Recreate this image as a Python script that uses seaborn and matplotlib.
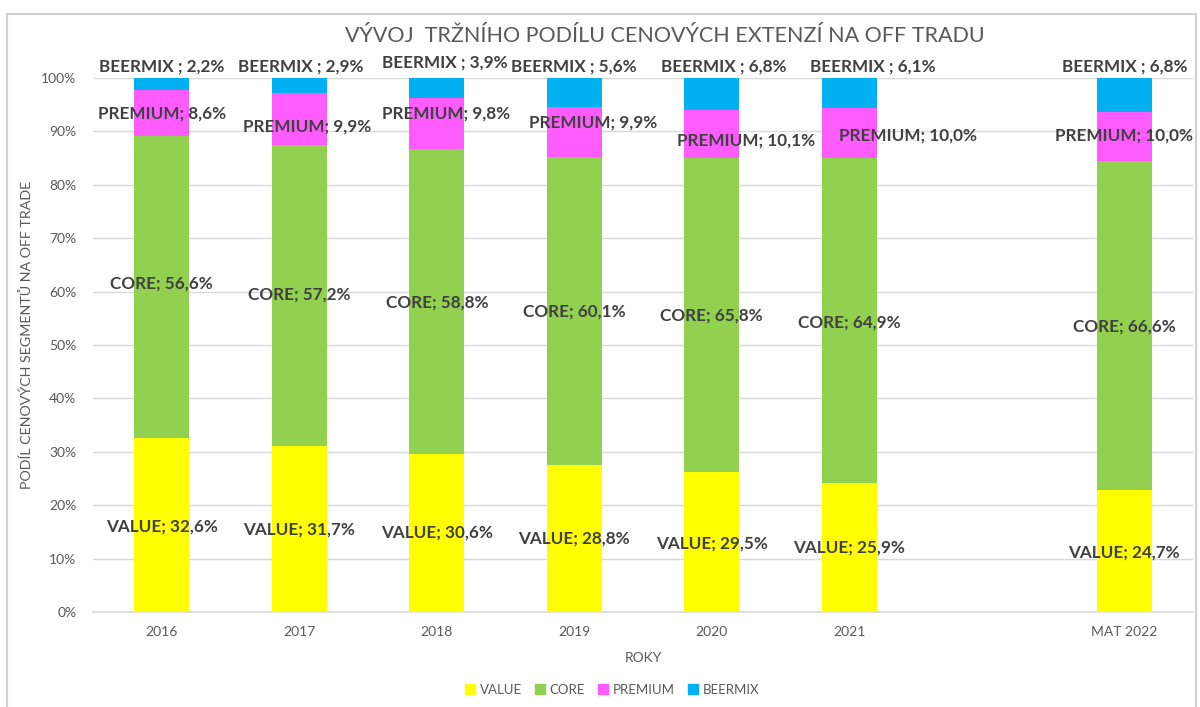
import numpy as np
import pandas as pd
import matplotlib
matplotlib.use("Agg")
import matplotlib.pyplot as plt
from matplotlib.lines import Line2D
from matplotlib.ticker import FuncFormatter
import seaborn as sns

# ---- data ----
categories = ["2016", "2017", "2018", "2019", "2020", "2021", "MAT 2022"]
order = ["2016", "2017", "2018", "2019", "2020", "2021", " ", "MAT 2022"]
value_raw = [32.6, 31.7, 30.6, 28.8, 29.5, 25.9, 24.7]
core_raw = [56.6, 57.2, 58.8, 60.1, 65.8, 64.9, 66.6]
premium_raw = [8.6, 9.9, 9.8, 9.9, 10.1, 10.0, 10.0]
beermix_raw = [2.2, 2.9, 3.9, 5.6, 6.8, 6.1, 6.8]
series_names = ["VALUE", "CORE", "PREMIUM", "BEERMIX"]
label_sep = {"VALUE": "; ", "CORE": "; ", "PREMIUM": "; ", "BEERMIX": " ; "}

# ---- label layout (Excel-style manual label placement) ----
label_y = {
    "VALUE": [16.1, 15.5, 14.8, 13.8, 12.9, 12.0, 11.2],
    "CORE": [61.5, 59.4, 57.9, 56.2, 55.6, 54.3, 53.4],
    "PREMIUM": [93.4, 91.0, 93.4, 91.6, 88.2, 89.3, 89.3],
    "BEERMIX": [102.2, 102.2, 102.9, 102.2, 102.2, 102.2, 102.2],
}
label_dx = {
    "VALUE": [0, 0, 0, 0, 0, 0, 0],
    "CORE": [0, 0, 0, 0, 0, 0, 0],
    "PREMIUM": [0.0, 0.06, 0.07, 0.14, 0.25, 0.43, 0.0],
    "BEERMIX": [0.0, 0.01, 0.06, 0.0, 0.09, 0.17, 0.0],
}

colors = {"VALUE": "#FFFF00", "CORE": "#92D050", "PREMIUM": "#FF5CFF", "BEERMIX": "#00B0F0"}

raw = {"VALUE": value_raw, "CORE": core_raw, "PREMIUM": premium_raw, "BEERMIX": beermix_raw}
totals = np.sum([np.array(raw[s]) for s in series_names], axis=0)
shares = {s: np.array(raw[s]) / totals * 100 for s in series_names}

sns.set_theme(style="white")
plt.rcParams["font.family"] = ["Lato", "DejaVu Sans"]

fig = plt.figure(figsize=(12, 7.07), dpi=100)
ax = fig.add_axes([93 / 1200, 1 - 612 / 707, 1100 / 1200, 534 / 707])

grid_c = "#D9D9D9"
txt_c = "#595959"
lab_c = "#404040"

bottom = np.zeros(len(categories))
for s in series_names:
    df = pd.DataFrame({"cat": categories, "share": shares[s]})
    sns.barplot(data=df, x="cat", y="share", order=order, color=colors[s],
                width=0.4, bottom=bottom.copy(), saturation=1, ax=ax,
                linewidth=0, errorbar=None, zorder=3)
    bottom = bottom + shares[s]

pos = {c: order.index(c) for c in categories}
for s in series_names:
    for i, c in enumerate(categories):
        txt = f"{s}{label_sep[s]}{raw[s][i]:.1f}%".replace(".", ",")
        ax.text(pos[c] + label_dx[s][i], label_y[s][i], txt, ha="center", va="center",
                fontsize=12.3, fontweight="bold", color=lab_c, zorder=5, clip_on=False)

ax.set_ylim(0, 100)
ax.set_xlim(-0.5, len(order) - 0.5)
ax.set_yticks(np.arange(0, 101, 10))
ax.yaxis.set_major_formatter(FuncFormatter(lambda v, p: f"{v:.0f}%"))
ax.grid(axis="y", color=grid_c, linewidth=1, zorder=0)
ax.grid(axis="x", visible=False)
for sp in ["left", "right", "top"]:
    ax.spines[sp].set_visible(False)
ax.spines["bottom"].set_color(grid_c)
ax.spines["bottom"].set_linewidth(1.2)
ax.tick_params(axis="both", length=0, labelsize=10, labelcolor=txt_c)
ax.tick_params(axis="x", pad=10)
ax.tick_params(axis="y", pad=12)
ax.set_xlabel("ROKY", fontsize=10, color=txt_c, labelpad=10)
ax.set_ylabel("PODÍL CENOVÝCH SEGMENTŮ NA OFF TRADE", fontsize=10.3, color=txt_c)
ax.yaxis.set_label_coords(-(93 - 33) / 1100, (612 - 335) / 534)

fig.text(665 / 1200, 1 - 36 / 707, "VÝVOJ  TRŽNÍHO PODÍLU CENOVÝCH EXTENZÍ NA OFF TRADU",
         ha="center", va="center", fontsize=15.5, color=txt_c)

handles = [Line2D([0], [0], marker="s", linestyle="none", markersize=7,
                  markerfacecolor=colors[s], markeredgecolor=colors[s]) for s in series_names]
fig.legend(handles, series_names, loc="center", bbox_to_anchor=(612 / 1200, 1 - 690 / 707),
           ncol=4, frameon=False, fontsize=9.5, labelcolor=txt_c, handletextpad=0.3,
           columnspacing=1.0, handlelength=0.8)

# chart border
bc = "#D0D0D0"
fig.add_artist(Line2D([7 / 1200, 7 / 1200], [0, 1 - 14 / 707], transform=fig.transFigure, color=bc, lw=1.5))
fig.add_artist(Line2D([7 / 1200, 1196 / 1200], [1 - 14 / 707, 1 - 14 / 707], transform=fig.transFigure, color=bc, lw=1.5))
fig.add_artist(Line2D([1196 / 1200, 1196 / 1200], [0, 1 - 14 / 707], transform=fig.transFigure, color=bc, lw=1.5))

fig.savefig("out.png", dpi=100)
